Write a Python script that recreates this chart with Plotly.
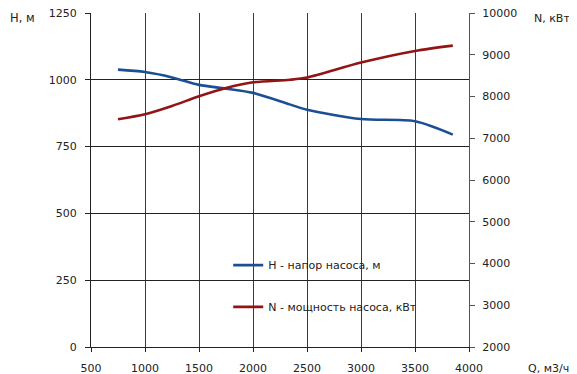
import plotly.graph_objects as go

q_h = [750, 1000, 1250, 1500, 1750, 2000, 2340, 2500, 3000, 3500, 3850]
head_h = [1038, 1029, 1009, 981, 967, 951, 908, 888, 853, 845, 795]

q_n = [750, 1000, 1250, 1500, 1750, 2000, 2340, 2500, 3000, 3500, 3850]
power_n = [7454, 7574, 7772, 8005, 8204, 8340, 8400, 8453, 8812, 9090, 9219]

x_ticks = [500, 1000, 1500, 2000, 2500, 3000, 3500, 4000]
h_ticks = [0, 250, 500, 750, 1000, 1250]
n_ticks = [2000, 3000, 4000, 5000, 6000, 7000, 8000, 9000, 10000]

name_h = "H - напор насоса, м"
name_n = "N - мощность насоса, кВт"

BLUE = "#1b4f93"
RED = "#921515"
FONT = "DejaVu Sans"

fig = go.Figure()
fig.add_trace(go.Scatter(x=q_h, y=head_h, mode="lines", name=name_h, showlegend=True,
                         line=dict(color=BLUE, width=2.6, shape="spline", smoothing=0.8),
                         legend="legend"))
fig.add_trace(go.Scatter(x=q_n, y=power_n, mode="lines", name=name_n, yaxis="y2", showlegend=True,
                         line=dict(color=RED, width=2.6, shape="spline", smoothing=0.8),
                         legend="legend2"))

fig.update_layout(
    width=569, height=366,
    margin=dict(l=83, r=108, t=5, b=27, autoexpand=False),
    paper_bgcolor="white", plot_bgcolor="white",
    showlegend=True,
    font=dict(family=FONT, size=11, color="#222"),
    xaxis=dict(range=[500, 4000], tickvals=x_ticks, ticktext=[str(v) for v in x_ticks],
               showgrid=True, gridcolor="#3a3a3a", automargin=False, ticklabeloverflow="allow",
               ticklabelstandoff=7,
               gridwidth=1, showline=True, linecolor="#222", linewidth=1,
               ticks="outside", ticklen=4, tickcolor="#222", zeroline=False),
    yaxis=dict(range=[0, 1250], tickvals=h_ticks, ticktext=[str(v) for v in h_ticks],
               showgrid=True, gridcolor="#222", automargin=False, ticklabeloverflow="allow",
               ticklabelstandoff=6,
               gridwidth=1, showline=True, linecolor="#222", linewidth=1,
               ticks="outside", ticklen=5, tickcolor="#222", zeroline=False),
    yaxis2=dict(range=[2000, 10000], tickvals=n_ticks, ticktext=[str(v) for v in n_ticks],
                overlaying="y", side="right", automargin=False, ticklabeloverflow="allow",
                ticklabelstandoff=5,
                showgrid=False, showline=True, linecolor="#555", linewidth=1,
                ticks="outside", ticklen=5, tickcolor="#555", zeroline=False),
    legend=dict(x=0.363, y=0.245, xanchor="left", yanchor="middle",
                bgcolor="rgba(0,0,0,0)", font=dict(size=11, family=FONT, color="#222")),
    legend2=dict(x=0.363, y=0.12, xanchor="left", yanchor="middle",
                 bgcolor="rgba(0,0,0,0)", font=dict(size=11, family=FONT, color="#222")),
    annotations=[
        dict(text="H, м", xref="paper", yref="paper", x=-0.22, y=0.984, xanchor="left",
             yanchor="middle", showarrow=False, font=dict(size=11.5, family=FONT, color="#222")),
        dict(text="N, кВт", xref="paper", yref="paper", x=1.166, y=0.984, xanchor="left",
             yanchor="middle", showarrow=False, font=dict(size=11, family=FONT, color="#222")),
        dict(text="Q, м3/ч", xref="paper", yref="paper", x=1.15, y=-0.064, xanchor="left",
             yanchor="middle", showarrow=False, font=dict(size=11, family=FONT, color="#222")),
    ],
)

fig.write_html("out.html")
